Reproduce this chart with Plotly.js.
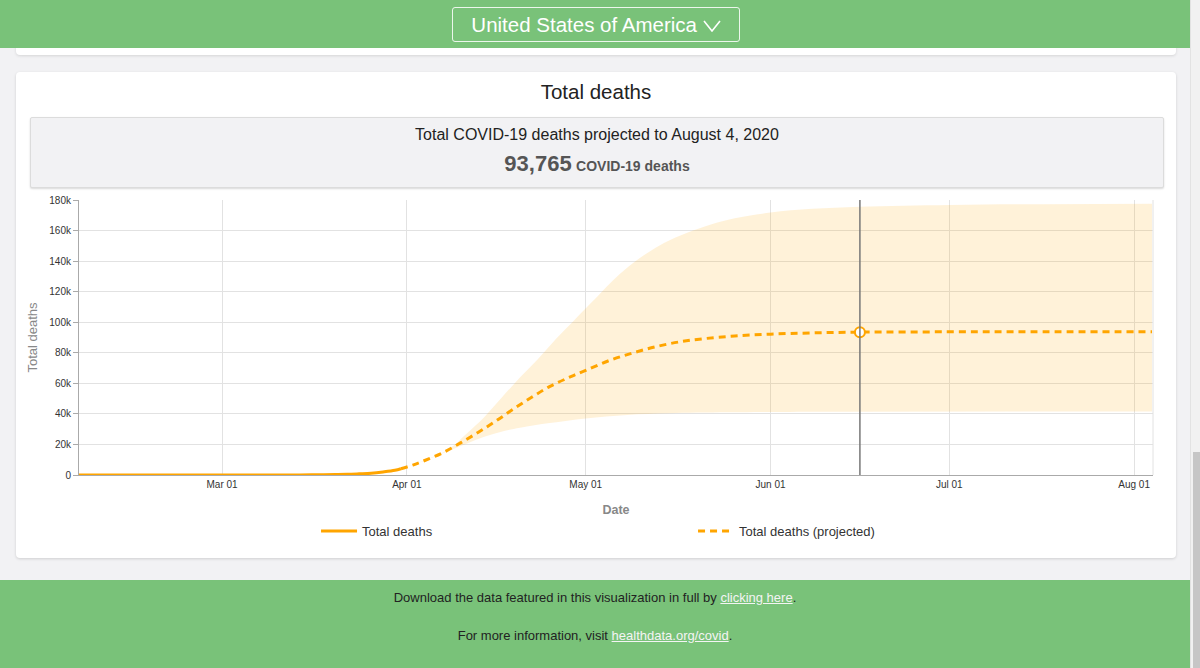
<!DOCTYPE html>
<html>
<head>
<meta charset="utf-8">
<script src="https://cdn.plot.ly/plotly-3.0.1.min.js"></script>
<style>
  html, body { margin:0; padding:0; width:1200px; height:668px; overflow:hidden; background:#f2f2f4; font-family:"Liberation Sans", Arial, sans-serif; }
  .abs { position:absolute; }
  #header { left:0; top:2; width:1190px; height:48px; background:#79c279; z-index:3; }
  #dropdown { left:452px; top:7px; width:286px; height:33px; border:1px solid rgba(255,255,255,0.85); border-radius:3px; color:#fff; font-size:20.5px; line-height:33px; text-align:center; }
  #prevcard { left:16px; top:20px; width:1160px; height:35px; background:#fff; border-radius:4px; box-shadow:0 1px 3px rgba(0,0,0,0.12); z-index:1; }
  #card { left:16px; top:72px; width:1160px; height:486px; background:#fff; border-radius:4px; box-shadow:0 1px 3px rgba(0,0,0,0.15); }
  #cardtitle { left:16px; top:80px; width:1160px; text-align:center; font-size:20.5px; color:#222; }
  #infobox { left:30px; top:117px; width:1132px; height:69px; background:#f2f2f4; border:1px solid #dcdcdc; border-radius:2px; box-shadow:0 1px 2px rgba(0,0,0,0.15); }
  #info1 { left:30px; top:126px; width:1134px; text-align:center; font-size:16px; color:#222; }
  #info2 { left:30px; top:151px; width:1134px; text-align:center; color:#555; font-weight:bold; }
  #info2 .big { font-size:22px; }
  #info2 .small { font-size:14px; }
  #chart { left:16px; top:190px; width:1160px; height:365px; }
  #footer { left:0; top:580px; width:1190px; height:88px; background:#79c279; color:#222; font-size:13px; text-align:center; }
  #footer a { color:#f4f4f4; text-decoration:underline; }
  #f1 { position:absolute; left:0; top:10px; width:1190px; }
  #f2 { position:absolute; left:0; top:48px; width:1190px; }
  #scroll { left:1190px; top:0; width:10px; height:668px; background:#f1f1f1; border-left:1px solid #e2e2e2; }
  #thumb { left:1193px; top:452px; width:7px; height:216px; background:#c6c6c6; }
</style>
</head>
<body>
<div id="prevcard" class="abs"></div>
<div id="header" class="abs">
  <div id="dropdown" class="abs">United States of America <svg width="18" height="12" viewBox="0 0 18 12" style="vertical-align:0px"><polyline points="1,1 9,11 17,1" fill="none" stroke="#fff" stroke-width="1.6"/></svg></div>
</div>
<div id="card" class="abs"></div>
<div id="cardtitle" class="abs">Total deaths</div>
<div id="infobox" class="abs"></div>
<div id="info1" class="abs">Total COVID-19 deaths projected to August 4, 2020</div>
<div id="info2" class="abs"><span class="big">93,765</span> <span class="small">COVID-19 deaths</span></div>
<div id="chart" class="abs"></div>
<div id="footer" class="abs">
  <div id="f1">Download the data featured in this visualization in full by <a>clicking here</a>.</div>
  <div id="f2">For more information, visit <a>healthdata.org/covid</a>.</div>
</div>
<div id="scroll" class="abs"></div>
<div id="thumb" class="abs"></div>
<script>
// Observed total deaths
const actualDates = ["2020-02-06","2020-02-20","2020-02-29","2020-03-05","2020-03-10","2020-03-14","2020-03-17","2020-03-20","2020-03-22","2020-03-24","2020-03-26","2020-03-28","2020-03-30","2020-03-31"];
const actualValues = [0,0,1,12,31,57,108,260,420,780,1200,2000,3100,4100];

// Projected total deaths (mean)
const projDates = ["2020-03-31","2020-04-02","2020-04-04","2020-04-07","2020-04-10","2020-04-13","2020-04-16","2020-04-19","2020-04-22","2020-04-25","2020-04-28","2020-05-01","2020-05-05","2020-05-09","2020-05-13","2020-05-17","2020-05-21","2020-05-26","2020-06-01","2020-06-08","2020-06-16","2020-07-01","2020-07-15","2020-08-04"];
const projValues = [4100,6500,9500,14500,21000,28000,35500,43500,51000,58000,63500,68500,75000,80000,84200,87300,89300,91000,92200,93000,93500,93700,93750,93765];

// Uncertainty band
const upperDates = ["2020-03-31","2020-04-04","2020-04-08","2020-04-11","2020-04-14","2020-04-17","2020-04-20","2020-04-23","2020-04-26","2020-04-29","2020-05-02","2020-05-06","2020-05-09","2020-05-12","2020-05-15","2020-05-19","2020-05-22","2020-05-26","2020-06-01","2020-06-08","2020-06-16","2020-07-01","2020-07-15","2020-08-04"];
const upperValues = [4100,9600,16800,27000,38000,51000,64000,76000,89000,101000,113000,129000,139000,147000,153500,160000,164000,168000,171800,174200,175600,176800,177300,177600];
const lowerDates = ["2020-03-31","2020-04-04","2020-04-08","2020-04-11","2020-04-14","2020-04-17","2020-04-20","2020-04-25","2020-05-01","2020-05-08","2020-05-15","2020-05-25","2020-06-10","2020-08-04"];
const lowerValues = [4100,9300,15800,20500,25000,28500,31000,34000,37000,39300,40400,41000,41400,41500];

// Highlighted point
const focusDate = "2020-06-16";
const focusValue = 93500;

const xRange = ["2020-02-06","2020-08-04 04:00"];
const yRange = [0,180000];

const orange = "#ffa500";
const traces = [
  {x: lowerDates, y: lowerValues, type:"scatter", mode:"lines", line:{width:0, shape:"spline"}, showlegend:false, hoverinfo:"skip"},
  {x: upperDates, y: upperValues, type:"scatter", mode:"lines", fill:"tonexty", fillcolor:"rgba(255,165,0,0.15)", line:{width:0, shape:"spline"}, showlegend:false, hoverinfo:"skip"},
  {x: actualDates, y: actualValues, type:"scatter", mode:"lines", name:"Total deaths", line:{color:orange, width:3, shape:"spline"}},
  {x: projDates, y: projValues, type:"scatter", mode:"lines", name:"Total deaths (projected)", line:{color:orange, width:3, dash:"7px,5px", shape:"spline"}},
  {x: [focusDate], y: [focusValue], type:"scatter", mode:"markers", showlegend:false, marker:{size:10, color:"#fff", line:{color:orange, width:2}}}
];

const layout = {
  width:1160, height:365,
  margin:{l:63, r:23, t:10, b:80, autoexpand:false},
  paper_bgcolor:"rgba(0,0,0,0)", plot_bgcolor:"#fff",
  font:{family:"Liberation Sans, Arial, sans-serif", color:"#333"},
  showlegend:true,
  legend:{orientation:"h", traceorder:"normal", x:0.2207, xanchor:"left", y:-0.2036, yanchor:"middle", entrywidth:326, entrywidthmode:"pixels", itemwidth:36, font:{size:13, color:"#333"}, bgcolor:"rgba(0,0,0,0)"},
  xaxis:{type:"date", range:xRange, tickformat:"%b %d", dtick:"M1", tick0:"2020-03-01", showgrid:true, gridcolor:"#e2e2e2", zeroline:false, showline:true, linecolor:"#aaa", linewidth:1, ticks:"", tickfont:{size:10, color:"#333"},
    title:{text:"Date", font:{size:12.5, color:"#888", weight:"bold"}, standoff:16}},
  yaxis:{range:yRange, tickformat:"~s", dtick:20000, showgrid:true, gridcolor:"#e2e2e2", zeroline:false, showline:true, linecolor:"#aaa", linewidth:1, ticks:"outside", ticklen:5, tickcolor:"#aaa", tickfont:{size:10, color:"#333"},
    title:{text:"Total deaths", font:{size:13, color:"#888"}, standoff:8}},
  shapes:[
    {type:"line", xref:"x", yref:"paper", x0:focusDate, x1:focusDate, y0:0, y1:1, line:{color:"#777", width:1.5}, layer:"above"},
    {type:"line", xref:"paper", yref:"paper", x0:1, x1:1, y0:0, y1:1, line:{color:"#e2e2e2", width:1}, layer:"below"}
  ],
  hovermode:false
};
Plotly.newPlot("chart", traces, layout, {displayModeBar:false, staticPlot:true});
</script>
</body>
</html>
